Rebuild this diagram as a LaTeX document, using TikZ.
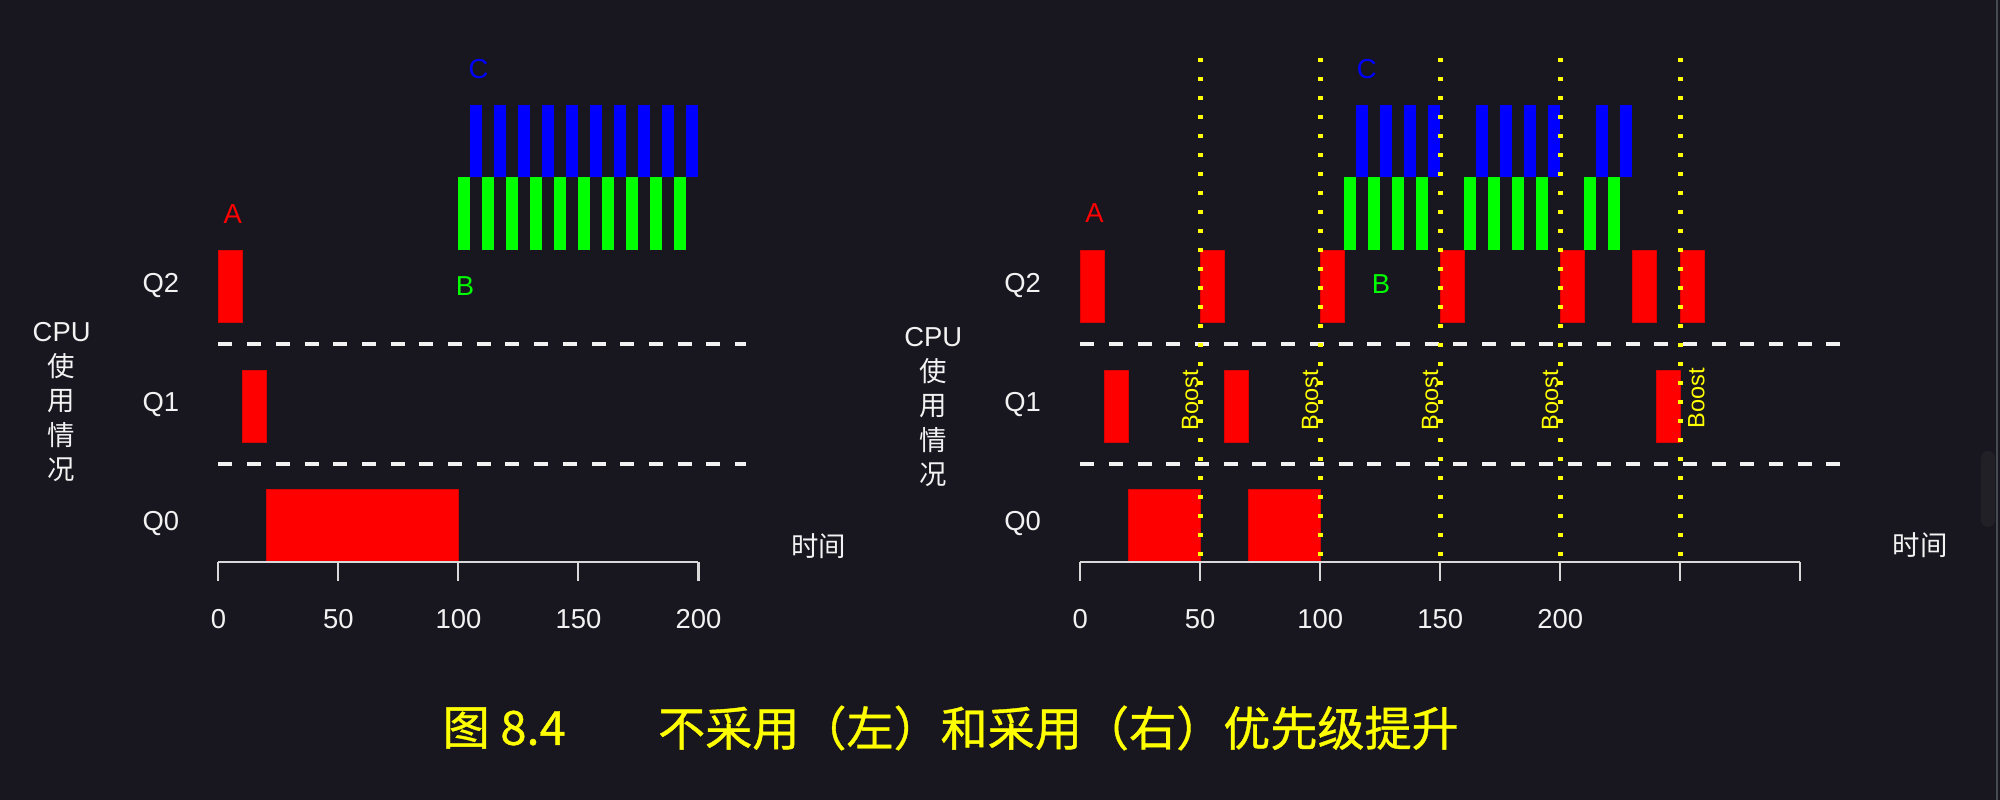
\documentclass[tikz,border=0pt]{standalone}
\usepackage{fontspec}
\setmainfont{Liberation Sans}
\newfontfamily\cjk{Noto Sans CJK SC}
\newfontfamily\cjkcap[FakeBold=0.8]{Noto Sans CJK SC}
\usepackage{tikz}
\usetikzlibrary{positioning}
\definecolor{BgDark}{HTML}{18161F}
\definecolor{JobRed}{HTML}{FF0000}
\definecolor{JobGreen}{HTML}{00FF00}
\definecolor{JobBlue}{HTML}{0000FF}
\definecolor{BoostYellow}{HTML}{FFFF00}
\definecolor{LabelWhite}{HTML}{F2F2F2}
\definecolor{AxisGrey}{HTML}{D9D9D9}
\definecolor{ThumbGrey}{HTML}{212027}
\definecolor{EdgeGrey}{HTML}{454B50}

\begin{document}
\begin{tikzpicture}[
    x=0.024cm,y=0.01cm,
    txt/.style={text=LabelWhite,inner sep=0pt,font=\fontsize{7.8}{9.8}\selectfont},
    cpulabel/.style={txt,align=center},
    joblabel/.style={txt,text=#1},
    jobA/.style={fill=JobRed,draw=JobRed!85!black,line width=0.3pt},
    jobB/.style={fill=JobGreen},
    jobC/.style={fill=JobBlue},
    qline/.style={draw=LabelWhite,line width=1.15pt,dash pattern=on 0.14cm off 0.147cm},
    axisline/.style={draw=AxisGrey,line width=0.6pt},
    boostline/.style={draw=BoostYellow,line width=1.3pt,dash pattern=on 0.04cm off 0.15cm},
    boostlabel/.style={text=BoostYellow,inner sep=0pt,rotate=90,font=\fontsize{6.7}{8}\selectfont},
    caption/.style={text=BoostYellow,inner sep=0pt,font=\cjkcap\fontsize{13.4}{16}\selectfont}
]
\fill[BgDark] (0cm,0cm) rectangle (20cm,8cm);
\useasboundingbox (0cm,0cm) rectangle (20cm,8cm);
\fill[ThumbGrey,rounded corners=0.07cm] (19.81cm,2.73cm) rectangle (19.95cm,3.49cm);
\draw[EdgeGrey,line width=0.5pt] (19.97cm,0cm) -- (19.97cm,8cm);

% left: no boost
\begin{scope}[xshift=2.184cm]
  \fill[jobA] (0,478) rectangle ++(10,72);
  \fill[jobA] (10,358) rectangle ++(10,72);
  \fill[jobA] (20,238) rectangle (100,311);
  \foreach \t in {100,110,...,190}
    \fill[jobB] (\t,550) rectangle ++(5,73);
  \foreach \t in {105,115,...,195}
    \fill[jobC] (\t,623) rectangle ++(5,72);
  \draw[qline] (0,456) -- (220,456);
  \draw[qline] (0,336) -- (220,336);
  \draw[axisline] (0,238) -- (200,238);
  \foreach \t in {0,50,...,200} {
    \draw[axisline] (\t,238) -- (\t,219);
    \node[txt] (ltick\t) at (\t,181) {\t};
  }
  \node[txt] (lq2) at (-24,515) {Q2};
  \node[txt] (lq1) at (-24,396) {Q1};
  \node[txt] (lq0) at (-24,277) {Q0};
  \node[cpulabel] (lcpu) at (-65.3,398) {CPU\\{\cjk 使}\\{\cjk 用}\\{\cjk 情}\\{\cjk 况}};
  \node[joblabel=JobRed] (la) at (6,586) {A};
  \node[joblabel=JobGreen] (lb) at (102.7,514) {B};
  \node[joblabel=JobBlue] (lc) at (108.4,731) {C};
  \node[txt] (ltime) at (250,254) {\cjk 时间};
\end{scope}

% right: boost every 50
\begin{scope}[xshift=10.802cm]
  \foreach \t in {0,50,100,150,200,230,250}
    \fill[jobA] (\t,478) rectangle ++(10,72);
  \foreach \t in {10,60,240}
    \fill[jobA] (\t,358) rectangle ++(10,72);
  \foreach \t in {20,70}
    \fill[jobA] (\t,238) rectangle ++(30,73);
  \foreach \t in {110,120,130,140,160,170,180,190,210,220}
    \fill[jobB] (\t,550) rectangle ++(5,73);
  \foreach \t in {115,125,135,145,165,175,185,195,215,225}
    \fill[jobC] (\t,623) rectangle ++(5,72);
  \draw[qline] (0,456) -- (317,456);
  \draw[qline] (0,336) -- (317,336);
  \draw[axisline] (0,238) -- (300,238);
  \foreach \t in {0,50,...,300}
    \draw[axisline] (\t,238) -- (\t,219);
  \foreach \t in {0,50,...,200}
    \node[txt] (rtick\t) at (\t,181) {\t};
  \foreach \t in {50,100,...,250}
    \draw[boostline] (\t,742) -- (\t,238);
  \foreach \t in {50,100,150,200}
    \node[boostlabel] (boost\t) at (\t-4.2,400) {Boost};
  \node[boostlabel] (boost250) at (256.7,402) {Boost};
  \node[txt] (rq2) at (-24,515) {Q2};
  \node[txt] (rq1) at (-24,396) {Q1};
  \node[txt] (rq0) at (-24,277) {Q0};
  \node[cpulabel] (rcpu) at (-61.2,393) {CPU\\{\cjk 使}\\{\cjk 用}\\{\cjk 情}\\{\cjk 况}};
  \node[joblabel=JobRed] (ra) at (6,587) {A};
  \node[joblabel=JobGreen] (rb) at (125.3,516) {B};
  \node[joblabel=JobBlue] (rc) at (119.4,731) {C};
  \node[txt] (rtime) at (350,255) {\cjk 时间};
\end{scope}

% caption
\node[caption,anchor=west] (fig) at (4.42cm,0.72cm) {图 8.4};
\node[caption,right=0.91cm of fig] (cap) {不采用（左）和采用（右）优先级提升};
\end{tikzpicture}
\end{document}
